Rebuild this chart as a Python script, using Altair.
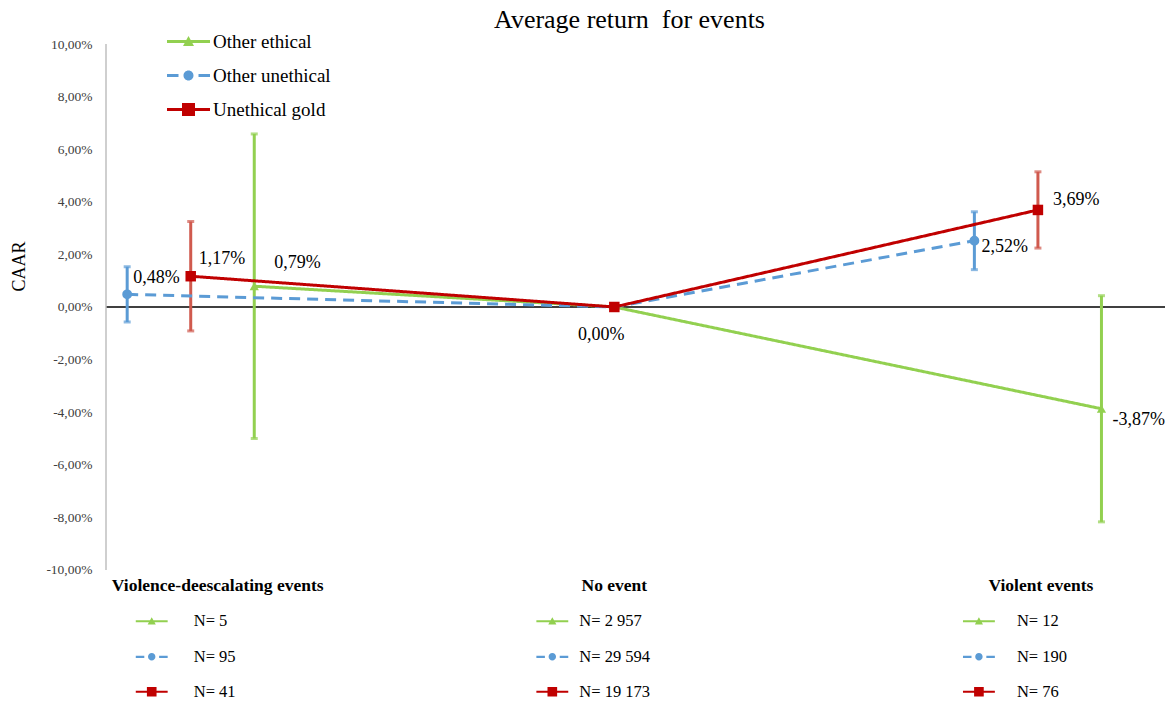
import altair as alt
import pandas as pd

# ---- data -------------------------------------------------------------
CATEGORIES = ["Violence-deescalating events", "No event", "Violent events"]
SERIES = ["Other ethical", "Other unethical", "Unethical gold"]

# cumulative average abnormal return (%), per series, per event category
OTHER_ETHICAL = [0.79, 0.00, -3.87]
OTHER_UNETHICAL = [0.48, 0.00, 2.52]
UNETHICAL_GOLD = [1.17, 0.00, 3.69]

# half-width of the error bars (%)
OTHER_ETHICAL_ERR = [5.79, 0.0, 4.30]
OTHER_UNETHICAL_ERR = [1.05, 0.0, 1.10]
UNETHICAL_GOLD_ERR = [2.08, 0.0, 1.45]

# number of observations
OTHER_ETHICAL_N = ["5", "2 957", "12"]
OTHER_UNETHICAL_N = ["95", "29 594", "190"]
UNETHICAL_GOLD_N = ["41", "19 173", "76"]

Y_TICKS = [-10, -8, -6, -4, -2, 0, 2, 4, 6, 8, 10]

# ---- style ------------------------------------------------------------
SERIF = "Liberation Serif"
LINE_COLORS = ["#92D050", "#5B9BD5", "#C00000"]
ERR_COLORS = ["#92D050", "#5B9BD5", "#D05A4E"]
MARKERS = ["triangle-up", "circle", "square"]
MARKER_SIZES = [85, 110, 150]
DASHES = [[1, 0], [11, 7], [1, 0]]
SERIES_SHIFT = [0.15, -0.15, 0.0]   # spread of the series around an event category
BASE_CATEGORY = "No event"          # shared origin point, not spread

# legend glyphs: a line segment with the series marker on it
_SEG = "M-4.3,-0.3H4.3V0.3H-4.3Z"
_DASH = "M-4.3,-0.3H-2V0.3H-4.3ZM2,-0.3H4.3V0.3H2Z"
GLYPHS = [
    _SEG + "M0,-1.1L1.1,0.9L-1.1,0.9Z",
    _DASH + "M1,0A1,1,0,0,1,-1,0A1,1,0,0,1,1,0Z",
    _SEG + "M-1.3,-1.3H1.3V1.3H-1.3Z",
]

W, H = 1059, 658
X_DOMAIN = [-0.2, 2.3]
Y_DOMAIN = [-15.02, 10]
PX_PER_X = W / (X_DOMAIN[1] - X_DOMAIN[0])

# observation table under the plot: row heights and per-column offsets (px)
HEADER_Y = -10.6
ROW_Y = [-11.95, -13.3, -14.63]
HEADER_SHIFT = [27, 0, 3]
SYMBOL_SHIFT = [-39, -62, -59]
TEXT_SHIFT = [3, -35, -21]

# data-label placement (dx, dy, align) for each labelled point
LABEL_PLACEMENT = [
    ("Other unethical", "Violence-deescalating events", 6, -16, "left"),
    ("Unethical gold", "Violence-deescalating events", 8, -17, "left"),
    ("Other ethical", "Violence-deescalating events", 20, -23, "left"),
    ("Unethical gold", "No event", -13, 28, "center"),
    ("Other unethical", "Violent events", 7, 6, "left"),
    ("Unethical gold", "Violent events", 15, -10, "left"),
    ("Other ethical", "Violent events", 11, 11, "left"),
]

# ---- tables -----------------------------------------------------------
values = [OTHER_ETHICAL, OTHER_UNETHICAL, UNETHICAL_GOLD]
errors = [OTHER_ETHICAL_ERR, OTHER_UNETHICAL_ERR, UNETHICAL_GOLD_ERR]
counts = [OTHER_ETHICAL_N, OTHER_UNETHICAL_N, UNETHICAL_GOLD_N]

rows = []
for j, s in enumerate(SERIES):
    for i, c in enumerate(CATEGORIES):
        shift = 0.0 if c == BASE_CATEGORY else SERIES_SHIFT[j]
        rows.append({
            "series": s, "category": c, "x": i + shift,
            "caar": values[j][i], "err": errors[j][i],
            "lo": values[j][i] - errors[j][i], "hi": values[j][i] + errors[j][i],
            "n_label": "N= " + counts[j][i],
            "x_sym": i + SYMBOL_SHIFT[i] / PX_PER_X,
            "x_txt": i + TEXT_SHIFT[i] / PX_PER_X,
            "row_y": ROW_Y[j],
        })
df = pd.DataFrame(rows)
heads = pd.DataFrame({"category": CATEGORIES,
                      "x": [i + HEADER_SHIFT[i] / PX_PER_X for i in range(len(CATEGORIES))],
                      "y": [HEADER_Y] * len(CATEGORIES)})

XS = alt.Scale(domain=X_DOMAIN, nice=False, zero=False)
YS = alt.Scale(domain=Y_DOMAIN, nice=False, zero=False)
LABEL_EXPR = ("(datum.value < 0 ? '-' : '') + "
              "replace(format(abs(datum.value), '.2f'), '.', ',') + '%'")
Y_AXIS = alt.Axis(values=Y_TICKS, labelExpr=LABEL_EXPR, domain=False, ticks=False,
                  tickSize=0, grid=False, labelFont=SERIF, labelFontSize=13.5,
                  labelColor="#404040", labelPadding=14, title="CAAR",
                  titleFont=SERIF, titleFontSize=18, titleFontWeight="normal",
                  titleColor="black", titleX=-87, titleY=222,
                  titleBaseline="middle", titleAlign="center")


def X(field):
    return alt.X(field, type="quantitative", scale=XS, axis=None)


def Y(field):
    return alt.Y(field, type="quantitative", scale=YS, axis=Y_AXIS)


def series_color(colors, legend=None):
    return alt.Color("series:N", scale=alt.Scale(domain=SERIES, range=colors),
                     legend=legend)


base = alt.Chart(df)

zero_line = alt.Chart(pd.DataFrame({"y": [0]})).mark_rule(
    color="black", strokeWidth=1.5).encode(y=Y("y"))

y_axis_line = alt.Chart(pd.DataFrame({"x": [X_DOMAIN[0]], "y": [min(Y_TICKS)],
                                      "y2": [max(Y_TICKS)]})).mark_rule(
    color="#BFBFBF", strokeWidth=1.5).encode(x=X("x"), y=Y("y"), y2="y2:Q")

err_rule = base.transform_filter("datum.err > 0").mark_rule(strokeWidth=3).encode(
    x=X("x"), y=Y("lo"), y2="hi:Q", color=series_color(ERR_COLORS))

err_caps = base.transform_filter("datum.err > 0").transform_fold(
    ["lo", "hi"], as_=["end", "yv"]).mark_tick(
    orient="horizontal", size=7, thickness=3).encode(
    x=X("x"), y=Y("yv:Q"), color=series_color(ERR_COLORS))

lines = base.mark_line(strokeWidth=3).encode(
    x=X("x"), y=Y("caar"), color=series_color(LINE_COLORS),
    strokeDash=alt.StrokeDash("series:N", scale=alt.Scale(domain=SERIES, range=DASHES),
                              legend=None),
    detail="series:N")

points = base.mark_point(filled=True, opacity=1, strokeWidth=0).encode(
    x=X("x"), y=Y("caar"), color=series_color(LINE_COLORS),
    shape=alt.Shape("series:N", scale=alt.Scale(domain=SERIES, range=MARKERS), legend=None),
    size=alt.Size("series:N", scale=alt.Scale(domain=SERIES, range=MARKER_SIZES), legend=None))

legend_def = alt.Legend(orient="none", legendX=73, legendY=-12, title=None,
                        symbolSize=100, symbolStrokeWidth=0, symbolOpacity=1,
                        labelFont=SERIF, labelFontSize=19, labelColor="black",
                        labelOffset=15, rowPadding=14, padding=0, labelLimit=400)
legend_layer = base.mark_point(filled=True, opacity=0).encode(
    x=X("x"), y=Y("caar"),
    color=series_color(LINE_COLORS, legend_def),
    shape=alt.Shape("series:N", scale=alt.Scale(domain=SERIES, range=GLYPHS),
                    legend=legend_def))

label_expr = ("(datum.caar < 0 ? '-' : '') + "
              "replace(format(abs(datum.caar), '.2f'), '.', ',') + '%'")
labels = []
for s, c, dx, dy, align in LABEL_PLACEMENT:
    labels.append(
        base.transform_filter(alt.FieldEqualPredicate(field="series", equal=s))
        .transform_filter(alt.FieldEqualPredicate(field="category", equal=c))
        .transform_calculate(txt=label_expr)
        .mark_text(font=SERIF, fontSize=18, color="black", align=align,
                   baseline="middle", dx=dx, dy=dy)
        .encode(x=X("x"), y=Y("caar"), text="txt:N"))

headers = alt.Chart(heads).mark_text(
    font=SERIF, fontSize=17.5, fontWeight="bold", color="black",
    align="center", baseline="middle").encode(x=X("x"), y=Y("y"), text="category:N")

table_symbols = base.mark_point(filled=True, opacity=1, strokeWidth=0, size=55).encode(
    x=X("x_sym"), y=Y("row_y"), color=series_color(LINE_COLORS),
    shape=alt.Shape("series:N", scale=alt.Scale(domain=SERIES, range=GLYPHS), legend=None))

table_text = base.mark_text(font=SERIF, fontSize=16.5, color="black",
                            align="left", baseline="middle").encode(
    x=X("x_txt"), y=Y("row_y"), text="n_label:N")

chart = alt.layer(
    zero_line, y_axis_line, err_rule, err_caps, lines, points, legend_layer,
    *labels, headers, table_symbols, table_text,
).resolve_scale(
    color="independent", shape="independent", size="independent",
    strokeDash="independent",
).properties(
    width=W, height=H,
    background="white",
    autosize=alt.AutoSizeParams(type="none"),
    padding={"left": 106, "top": 44, "right": 10, "bottom": 0},
    title=alt.Title("Average return\u00a0 for events", font=SERIF, fontSize=26,
                    fontWeight="normal", color="black", anchor="middle",
                    frame="group", dx=-6, dy=12, offset=11),
).configure_view(stroke=None)

chart.save("out.html", embed_options={"renderer": "svg", "actions": False})
